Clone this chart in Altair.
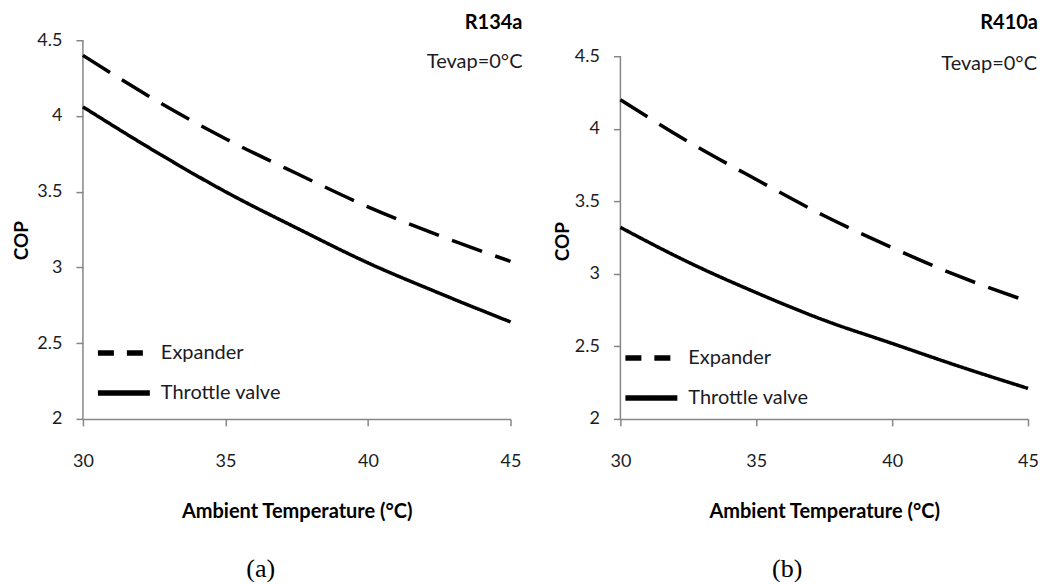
import altair as alt
import pandas as pd

# ---- data ----
temps = [30, 32.5, 35, 37.5, 40, 42.5, 45]
series_names = ["Expander", "Throttle valve"]

r134a_expander = [4.40, 4.11, 3.85, 3.62, 3.40, 3.21, 3.04]
r134a_throttle = [4.06, 3.77, 3.50, 3.26, 3.03, 2.83, 2.64]

r410a_expander = [4.20, 3.91, 3.65, 3.40, 3.18, 2.98, 2.81]
r410a_throttle = [3.32, 3.08, 2.87, 2.68, 2.52, 2.36, 2.21]

x_ticks = [30, 35, 40, 45]
y_ticks = [2, 2.5, 3, 3.5, 4, 4.5]

FONT = "Lato"
AXIS_GREY = "#868686"
TXT = "#1b1b24"


def make_df(exp_vals, thr_vals):
    rows = []
    for t, v in zip(temps, exp_vals):
        rows.append({"T": t, "COP": v, "series": series_names[0]})
    for t, v in zip(temps, thr_vals):
        rows.append({"T": t, "COP": v, "series": series_names[1]})
    return pd.DataFrame(rows)


def panel(df, refrigerant, caption, w, h, y_top, title_dx, title_dy, tev_dx, tev_dy,
          ytitle_x, ytitle_y, leg_x, leg_y, cap_dx):
    one = pd.DataFrame({"k": [0]})
    x = alt.X("T:Q",
              scale=alt.Scale(domain=[30, 45], nice=False, zero=False),
              axis=alt.Axis(values=x_ticks, title="Ambient Temperature (°C)",
                            labelBaseline="middle", labelPadding=36, labelFlush=False,
                            titleBaseline="middle", titleY=93,
                            titleFont=FONT, titleFontSize=20, titleFontWeight="bold",
                            titleColor="black"))
    y = alt.Y("COP:Q",
              scale=alt.Scale(domain=[2, y_top], nice=False, zero=False),
              axis=alt.Axis(values=y_ticks, format="~g", title="COP",
                            labelPadding=14, domain=False, labelFlush=False,
                            titleBaseline="middle", titleAlign="center",
                            titleX=ytitle_x, titleY=ytitle_y, titleAngle=270,
                            titleFont=FONT, titleFontSize=19, titleFontWeight="bold",
                            titleColor="black"))

    lines = alt.Chart(df).mark_line(
        color="black", strokeWidth=3.5, interpolate="monotone"
    ).encode(
        x=x, y=y,
        strokeDash=alt.StrokeDash(
            "series:N",
            scale=alt.Scale(domain=series_names, range=[[32, 14], [1, 0]]),
            legend=None),
    )

    legend_layer = alt.Chart(df).mark_line(
        color="black", strokeWidth=5.5, opacity=0
    ).encode(
        x="T:Q", y="COP:Q",
        strokeDash=alt.StrokeDash(
            "series:N",
            scale=alt.Scale(domain=series_names, range=[[16, 13], [1, 0]]),
            legend=alt.Legend(title=None, orient="none", legendX=leg_x, legendY=leg_y,
                              symbolType="stroke", symbolSize=2704,
                              symbolOpacity=1, symbolStrokeColor="black",
                              symbolStrokeWidth=5.5,
                              labelFont=FONT, labelFontSize=20, labelColor=TXT,
                              labelOffset=8, rowPadding=-8)),
    )

    y_axis_line = alt.Chart(one).mark_rule(color=AXIS_GREY, strokeWidth=1.5).encode(
        x=alt.datum(30), y=alt.datum(2), y2=alt.datum(4.5))

    title_txt = alt.Chart(one).mark_text(
        text=refrigerant, font=FONT, fontSize=20, fontWeight="bold",
        align="right", baseline="middle", dx=title_dx, dy=title_dy, color="black"
    ).encode(x=alt.datum(45), y=alt.datum(4.5))

    tev_txt = alt.Chart(one).mark_text(
        text="Tevap=0°C", font=FONT, fontSize=20,
        align="right", baseline="middle", dx=tev_dx, dy=tev_dy, color=TXT
    ).encode(x=alt.datum(45), y=alt.datum(4.5))

    return alt.layer(y_axis_line, lines, legend_layer, title_txt, tev_txt).resolve_scale(
        strokeDash="independent"
    ).properties(
        width=w, height=h,
        title=alt.TitleParams(caption, orient="bottom", anchor="middle", frame="group",
                              font="Liberation Serif", fontSize=26, fontWeight="normal",
                              color="black", dx=cap_dx, offset=34),
    )


left = panel(make_df(r134a_expander, r134a_throttle), "R134a", "(a)",
             428, 379, 4.5, 12, -17, 12, 22, -61, 200, 12, 284, -36)
right = panel(make_df(r410a_expander, r410a_throttle), "R410a", "(b)",
              408, 379, 4.61, 10, -33, 9, 8, -58, 201, 2, 289, -37)

chart = alt.hconcat(left, right, spacing=31).configure_view(stroke=None).configure_axis(
    grid=False, domainColor=AXIS_GREY, tickColor=AXIS_GREY, domainWidth=1.5,
    tickWidth=1.5, tickSize=7, labelFont=FONT, labelFontSize=18, labelColor=TXT,
).properties(padding={"left": 5, "top": 4, "right": 0, "bottom": 0})

chart.save("out.html", embed_options={"renderer": "svg", "actions": False})
